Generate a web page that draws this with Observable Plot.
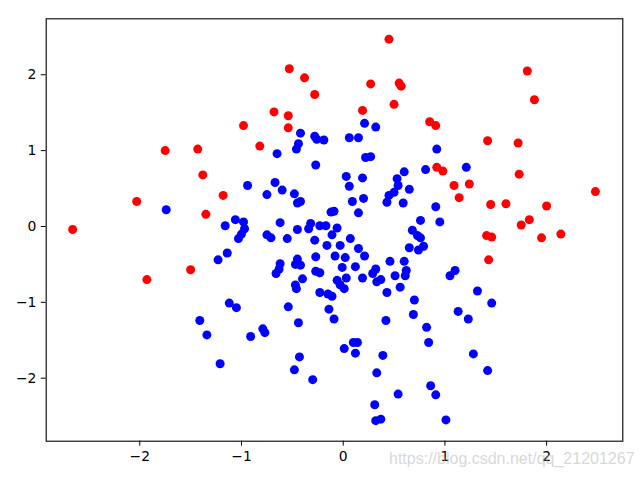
<!DOCTYPE html>
<html>
<head>
<meta charset="utf-8">
<script src="https://cdn.jsdelivr.net/npm/d3@7"></script>
<script src="https://cdn.jsdelivr.net/npm/@observablehq/plot@0.6"></script>
<style>
  html, body { margin: 0; padding: 0; background: #fff; }
  #wrap { position: relative; width: 640px; height: 480px; overflow: hidden; }
  #wrap svg { position: absolute; left: 0; top: 0; }
  #wm { position: absolute; left: 389px; top: 450px; font-family: "Liberation Sans", Arial, sans-serif;
        font-size: 16px; color: rgba(175,175,175,0.5); white-space: nowrap; }
</style>
</head>
<body>
<div id="wrap"></div>
<script>
// Red points
const redX = [-1.75,-1.43,-0.98,0.45,-0.53,-0.38,0.27,0.55,0.57,-0.28,0.50,-0.68,-0.54,0.19,-0.54,0.85,0.91,-0.82,1.81,1.88,1.42,1.72,-1.38,-1.18,-2.03,-1.35,-2.66,-1.50,-1.93,0.92,0.98,1.73,1.09,1.24,1.14,2.48,1.45,1.60,2.00,1.83,1.75,1.41,1.46,1.95,2.14,1.43];
const redY = [1.00,1.02,1.33,2.47,2.08,1.96,1.88,1.89,1.85,1.74,1.61,1.51,1.46,1.53,1.30,1.38,1.33,1.06,2.05,1.67,1.13,1.10,0.68,0.41,0.33,0.16,-0.04,-0.57,-0.70,0.78,0.73,0.69,0.54,0.56,0.38,0.46,0.29,0.30,0.27,0.09,0.02,-0.12,-0.14,-0.15,-0.10,-0.44];

// Blue points
const blueX = [
  0.21,0.32,-0.42,-0.28,-0.26,-0.19,-0.44,-0.46,0.06,0.15,0.92,
  -0.65,0.22,0.27,-0.27,0.81,0.60,0.53,0.03,0.19,-0.94,-0.67,-0.60,-0.75,-0.48,0.06,0.54,0.65,0.50,0.45,0.43,
  0.59,0.20,0.09,0.15,-0.45,-0.42,0.91,-0.12,-0.09,0.76,0.95,-0.62,-0.32,-0.23,-0.17,-0.34,-0.06,-0.45,-0.11,
  -0.75,-0.71,-0.55,-0.28,0.07,0.68,0.73,0.76,0.65,0.74,0.79,-0.16,-0.03,0.15,0.21,-0.27,-0.08,0.02,-0.45,
  -0.47,-0.42,-0.62,-0.63,-0.66,0.46,0.60,0.12,-0.01,-0.27,-0.23,0.32,0.29,0.62,0.61,0.51,0.03,0.19,-0.40,
  -0.06,-0.03,0.01,0.37,0.33,-0.47,-0.46,0.56,-0.23,-0.15,-0.11,0.43,
  -1.74,-1.06,-0.98,-0.97,-1.00,-1.03,-1.16,-1.14,-1.23,
  1.21,1.10,1.05,1.32,
  -1.12,-1.05,-1.41,-1.34,-1.21,0.70,-0.54,-0.14,-0.09,-0.44,0.42,0.69,0.82,-0.79,-0.77,-0.91,0.84,0.10,0.14,
  0.01,0.12,-0.43,0.39,-0.48,0.33,-0.30,0.86,0.91,0.54,0.31,0.32,0.37,1.46,1.13,1.23,1.28,1.42,1.01
];
const blueY = [
  1.36,1.31,1.23,1.19,1.15,1.14,1.09,1.02,1.17,1.17,1.02,
  0.96,0.91,0.92,0.81,0.75,0.72,0.63,0.66,0.64,0.54,0.58,0.48,0.42,0.43,0.53,0.54,0.49,0.45,0.41,0.32,
  0.31,0.37,0.33,0.18,0.31,0.33,0.26,0.19,0.20,0.08,0.06,0.05,0.04,0.01,0.01,-0.03,-0.02,-0.04,-0.11,
  -0.11,-0.15,-0.16,-0.18,-0.16,-0.05,-0.12,-0.15,-0.28,-0.31,-0.26,-0.25,-0.25,-0.29,-0.39,-0.40,-0.39,-0.41,-0.43,
  -0.50,-0.51,-0.49,-0.56,-0.62,-0.46,-0.46,-0.53,-0.54,-0.59,-0.61,-0.56,-0.62,-0.58,-0.65,-0.65,-0.68,-0.68,-0.69,
  -0.71,-0.77,-0.82,-0.70,-0.73,-0.77,-0.82,-0.80,-0.87,-0.89,-0.92,-0.87,
  0.22,0.09,0.06,-0.03,-0.10,-0.16,0.01,-0.35,-0.44,
  0.78,-0.58,-0.65,-0.85,
  -1.01,-1.07,-1.24,-1.43,-1.81,-0.97,-1.06,-1.09,-1.22,-1.27,-1.24,-1.16,-1.33,-1.35,-1.40,-1.45,-1.53,-1.53,-1.53,
  -1.61,-1.67,-1.72,-1.70,-1.89,-1.93,-2.02,-2.10,-2.22,-2.21,-2.35,-2.56,-2.54,-1.01,-1.12,-1.22,-1.68,-1.90,-2.55
];

const xTicks = [-2, -1, 0, 1, 2];
const yTicks = [-2, -1, 0, 1, 2];
const watermark = "https://blog.csdn.net/qq_21201267";

const blue = blueX.map((x, i) => ({x, y: blueY[i]}));
const red = redX.map((x, i) => ({x, y: redY[i]}));
const fmt = d3.format("d");

const chart = Plot.plot({
  width: 640,
  height: 480,
  marginLeft: 45.7,
  marginRight: 17.7,
  marginTop: 18.3,
  marginBottom: 39.3,
  style: { fontFamily: "DejaVu Sans", fontSize: "13.9px", background: "white", color: "black", overflow: "visible" },
  x: { domain: [-2.92, 2.749], ticks: xTicks, tickFormat: fmt, tickSize: 4.9, tickPadding: 5.5, label: null },
  y: { domain: [-2.831, 2.738], ticks: yTicks, tickFormat: fmt, tickSize: 4.9, tickPadding: 4.9, label: null },
  marks: [
    Plot.dot(blue, { x: "x", y: "y", r: 4.5, fill: "#0000ff", stroke: null }),
    Plot.dot(red, { x: "x", y: "y", r: 4.5, fill: "#ff0000", stroke: null }),
    Plot.frame({ stroke: "black", strokeWidth: 1.1 })
  ]
});
document.getElementById("wrap").appendChild(chart);
const wm = document.createElement("div");
wm.id = "wm";
wm.textContent = watermark;
document.getElementById("wrap").appendChild(wm);
</script>
</body>
</html>
